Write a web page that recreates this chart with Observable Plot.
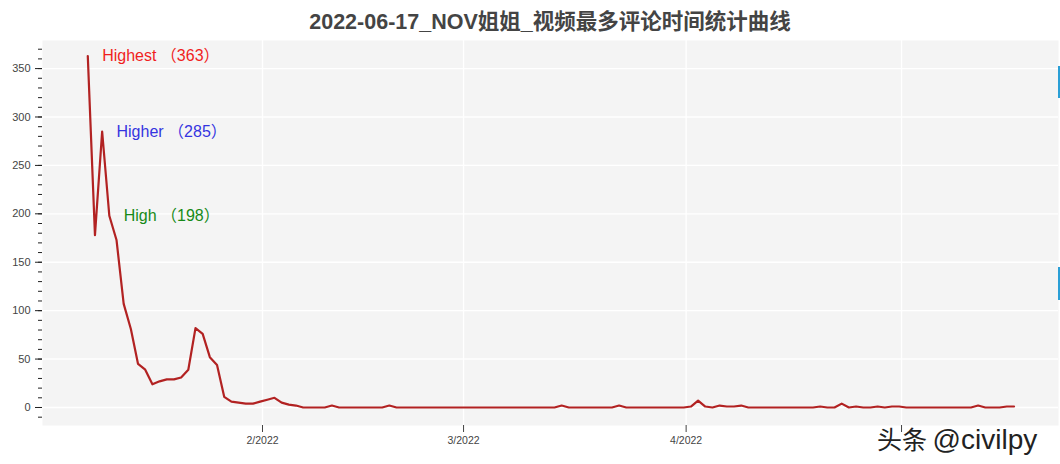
<!DOCTYPE html>
<html>
<head>
<meta charset="utf-8">
<script src="https://cdn.jsdelivr.net/npm/d3@7"></script>
<script src="https://cdn.jsdelivr.net/npm/@observablehq/plot@0.6"></script>
<style>
  html, body { margin: 0; padding: 0; background: #fff; }
  #wrap { position: relative; width: 1060px; height: 464px; overflow: hidden; font-family: "Liberation Sans", Arial, "Noto Sans CJK SC", sans-serif; }
  #title { height: 36px; width: 1020px; padding-left: 40px; text-align: center; font-weight: bold; font-size: 21.5px; line-height: 45px; color: #444; white-space: nowrap; }
  #chart svg { display: block; }
  .tb { position: absolute; left: 1058px; width: 3px; background: #2a9fd6; }
  #wm { position: absolute; left: 877px; top: 420px; font-size: 25px; color: #222; white-space: nowrap;
        font-family: "Noto Sans CJK SC", "Liberation Sans", sans-serif;
        text-shadow: 0 0 2px #fff, 0 0 2px #fff, 0 0 3px #fff; }
  #wm span { font-family: "Liberation Sans", Arial, sans-serif; font-size: 28px; }
</style>
</head>
<body>
<div id="wrap">
  <div id="title">2022-06-17_NOV姐姐_视频最多评论时间统计曲线</div>
  <div id="chart"></div>
  <div class="tb" style="top:66px;height:32px"></div>
  <div class="tb" style="top:267px;height:33px"></div>
  <div id="wm">头条 <span>@civilpy</span></div>
</div>
<script>
// ---- data ----
const startTime = "2022-01-07T16:00:00Z"; // first daily point
const counts = [
  363, 178, 285, 198, 173, 107, 81, 45, 39, 24,
  27, 29, 29, 31, 39, 82, 76, 52, 44, 11,
  6, 5, 4, 4, 6, 8, 10, 5, 3, 2,
  0, 0, 0, 0, 2, 0, 0, 0, 0, 0,
  0, 0, 2, 0, 0, 0, 0, 0, 0, 0,
  0, 0, 0, 0, 0, 0, 0, 0, 0, 0,
  0, 0, 0, 0, 0, 0, 2, 0, 0, 0,
  0, 0, 0, 0, 2, 0, 0, 0, 0, 0,
  0, 0, 0, 0, 1, 7, 1, 0, 2, 1,
  1, 2, 0, 0, 0, 0, 0, 0, 0, 0,
  0, 0, 1, 0, 0, 4, 0, 1, 0, 0,
  1, 0, 1, 1, 0, 0, 0, 0, 0, 0,
  0, 0, 0, 0, 2, 0, 0, 0, 1, 1
];
const xTickDates = ["2022-02-01", "2022-03-01", "2022-04-01", "2022-05-01"];
const xTickLabels = ["2/2022", "3/2022", "4/2022", ""]; // 5/2022 is hidden under the watermark
const yMajorTicks = [0, 50, 100, 150, 200, 250, 300, 350];
const yMinorTicks = d3.range(-10, 381, 10);
const labelNames = ["Highest", "Higher", "High"];
const labelPointIndex = [0, 2, 3];
const labelColors = ["#f01e1e", "#3434e0", "#178a17"];
const xDomain = ["2022-01-01T08:38:00Z", "2022-05-22T20:38:00Z"];
const yDomain = [-18.6, 379];

// ---- build ----
const t0 = new Date(startTime);
const data = counts.map((v, i) => ({ date: d3.utcDay.offset(t0, i), value: v }));
const labels = labelNames.map((name, k) => {
  const p = data[labelPointIndex[k]];
  return { date: d3.utcDay.offset(p.date, 2), value: p.value, text: `${name} （${p.value}）`, color: labelColors[k] };
});
const xTicks = xTickDates.map(d => new Date(d + "T00:00:00Z"));
const xLabelOf = new Map(xTicks.map((d, i) => [+d, xTickLabels[i]]));

const chart = Plot.plot({
  width: 1060,
  height: 428,
  marginTop: 4,
  marginBottom: 39,
  marginLeft: 42,
  marginRight: 2,
  style: { fontFamily: "\"Liberation Sans\", Arial, sans-serif", fontSize: "11px", color: "#444", background: "transparent" },
  x: { type: "utc", domain: xDomain.map(d => new Date(d)) },
  y: { domain: yDomain },
  marks: [
    Plot.frame({ fill: "#f4f4f4", stroke: null }),
    Plot.gridY(yMajorTicks, { stroke: "#fff", strokeOpacity: 1, strokeWidth: 1.4 }),
    Plot.gridX(xTicks, { stroke: "#fff", strokeOpacity: 1, strokeWidth: 1.4 }),
    Plot.axisY(yMinorTicks.filter(v => v >= yDomain[0] && v <= yDomain[1]), { tickSize: 4, tickFormat: () => "", label: null, stroke: "#222" }),
    Plot.axisY(yMajorTicks, { tickSize: 7, tickPadding: 5, label: null, stroke: "#222", fill: "#444", fontSize: 11 }),
    Plot.axisX(xTicks, { tickSize: 7, tickPadding: 4, label: null, stroke: "#444", fill: "#444", fontSize: 10.5,
      tickFormat: d => xLabelOf.get(+d) }),
    Plot.lineY(data, { x: "date", y: "value", stroke: "#b22222", strokeWidth: 2.2, curve: "linear" }),
    Plot.text(labels, { x: "date", y: "value", text: "text", fill: "color", textAnchor: "start", lineAnchor: "middle",
      fontSize: 16, fontFamily: "\"Liberation Sans\", Arial, \"Noto Sans CJK SC\", sans-serif" })
  ]
});
document.getElementById("chart").appendChild(chart);
</script>
</body>
</html>
